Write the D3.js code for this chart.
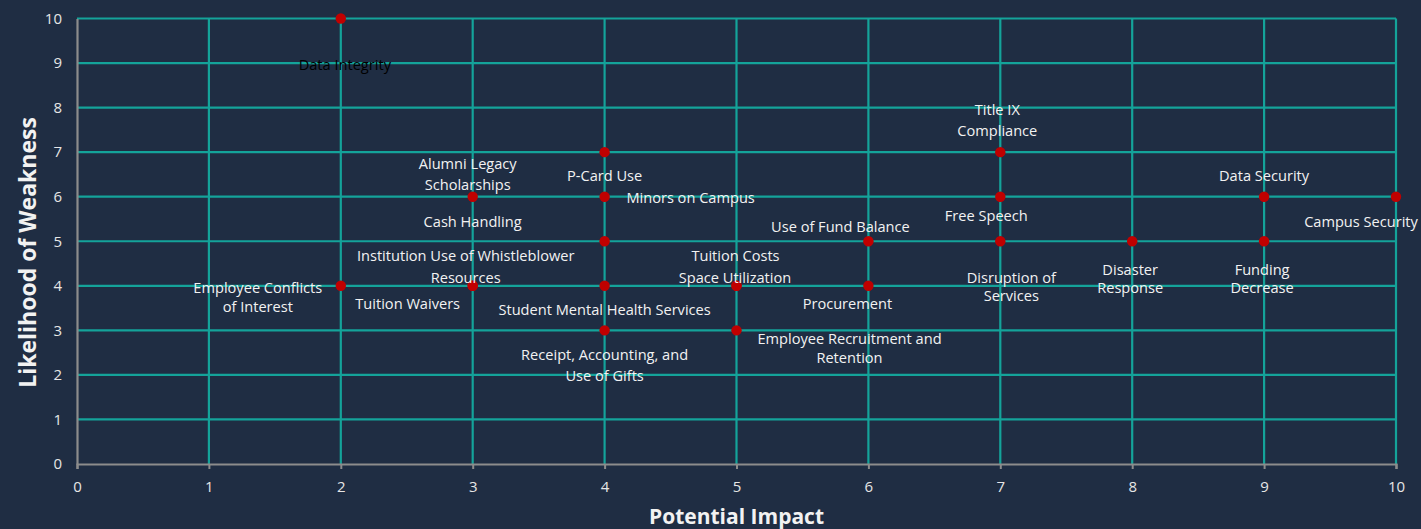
<!DOCTYPE html>
<html>
<head>
<meta charset="utf-8">
<script src="https://cdn.jsdelivr.net/npm/d3@7"></script>
<style>
  html, body { margin: 0; padding: 0; background: #1F2D43; }
  svg { display: block; }
  text { font-family: "Open Sans", Lato, sans-serif; }
</style>
</head>
<body>
<svg id="chart" width="1421" height="529"></svg>
<script>
// ---- data ----
const riskNames = [
  "Data Integrity",
  "Employee Conflicts of Interest",
  "Alumni Legacy Scholarships",
  "Cash Handling",
  "Institution Use of Whistleblower Resources",
  "Tuition Waivers",
  "P-Card Use",
  "Minors on Campus",
  "Student Mental Health Services",
  "Receipt, Accounting, and Use of Gifts",
  "Tuition Costs",
  "Space Utilization",
  "Employee Recruitment and Retention",
  "Use of Fund Balance",
  "Procurement",
  "Title IX Compliance",
  "Free Speech",
  "Disruption of Services",
  "Disaster Response",
  "Data Security",
  "Funding Decrease",
  "Campus Security"
];
const impactValues =     [2, 2, 3, 4, 3, 3, 4, 4, 4, 4, 5, 5, 5, 6, 6, 7, 7, 7, 8, 9, 9, 10];
const likelihoodValues = [10, 4, 6, 5, 4, 4, 7, 6, 4, 3, 4, 4, 3, 5, 4, 7, 6, 5, 5, 6, 5, 6];
const xTicks = [0, 1, 2, 3, 4, 5, 6, 7, 8, 9, 10];
const yTicks = [0, 1, 2, 3, 4, 5, 6, 7, 8, 9, 10];
const xTitle = "Potential Impact";
const yTitle = "Likelihood of Weakness";

// ---- label layout (line breaks + pixel offsets from the point) ----
const labelLines = [
  ["Data Integrity"],
  ["Employee Conflicts", "of Interest"],
  ["Alumni Legacy", "Scholarships"],
  ["Cash Handling"],
  ["Institution Use of Whistleblower", "Resources"],
  ["Tuition Waivers"],
  ["P-Card Use"],
  ["Minors on Campus"],
  ["Student Mental Health Services"],
  ["Receipt, Accounting, and", "Use of Gifts"],
  ["Tuition Costs"],
  ["Space Utilization"],
  ["Employee Recruitment and", "Retention"],
  ["Use of Fund Balance"],
  ["Procurement"],
  ["Title IX", "Compliance"],
  ["Free Speech"],
  ["Disruption of", "Services"],
  ["Disaster", "Response"],
  ["Data Security"],
  ["Funding", "Decrease"],
  ["Campus Security"]
];
// [dx, dy of first line centre, line gap]
const labelOffsets = [
  [4, 45, 0],
  [-83, 1.5, 19],
  [-5, -33.5, 20.5],
  [-132, -20, 0],
  [-7, -30.6, 21.5],
  [-65, 17.4, 0],
  [0, 23, 0],
  [86, 0.6, 0],
  [0, 23.4, 0],
  [0, 24, 21],
  [-1, -30.6, 0],
  [-1.5, -9, 0],
  [113, 8, 19],
  [-28, -15, 0],
  [-21, 17.4, 0],
  [-3, -42.8, 21],
  [-14, 18.6, 0],
  [11, 36, 18],
  [-2, 28, 18],
  [0, -21.4, 0],
  [-2, 28, 18],
  [-35, 24.6, 0]
];

// ---- chart ----
const svg = d3.select("#chart");
const margin = { left: 77, right: 25, top: 18.5, bottom: 65 };
const W = 1421, H = 529;

const x = d3.scaleLinear().domain([0, 10]).range([margin.left, W - margin.right]);
const y = d3.scaleLinear().domain([0, 10]).range([H - margin.bottom, margin.top]);

const gridColor = "#14A39A";
const axisColor = "#8C8C8C";
const textColor = "#E6E6E6";

// grid
svg.append("g")
  .selectAll("line.h")
  .data(yTicks.filter(d => d > 0))
  .join("line")
  .attr("x1", x(0)).attr("x2", x(10))
  .attr("y1", d => y(d)).attr("y2", d => y(d))
  .attr("stroke", gridColor).attr("stroke-width", 2.2);

svg.append("g")
  .selectAll("line.v")
  .data(xTicks.filter(d => d > 0))
  .join("line")
  .attr("x1", d => x(d)).attr("x2", d => x(d))
  .attr("y1", y(0)).attr("y2", y(10))
  .attr("stroke", gridColor).attr("stroke-width", 2.2);

// x axis
const xAxis = svg.append("g")
  .attr("transform", `translate(0,${y(0)})`)
  .call(d3.axisBottom(x).tickValues(xTicks).tickSize(5).tickPadding(12).tickFormat(d3.format("d")));
xAxis.select(".domain").attr("stroke", axisColor).attr("stroke-width", 2.2);
xAxis.selectAll(".tick line").attr("stroke", axisColor).attr("stroke-width", 2);
xAxis.selectAll(".tick text").attr("fill", textColor).attr("font-size", 15)
  .style("font-family", "'Open Sans', Lato, sans-serif");

// y axis
const yAxis = svg.append("g")
  .attr("transform", `translate(${x(0)},0)`)
  .call(d3.axisLeft(y).tickValues(yTicks).tickSize(0).tickPadding(15).tickFormat(d3.format("d")));
yAxis.select(".domain").attr("stroke", axisColor).attr("stroke-width", 2.2);
yAxis.selectAll(".tick text").attr("fill", textColor).attr("font-size", 15)
  .style("font-family", "'Open Sans', Lato, sans-serif");

// axis titles
svg.append("text")
  .attr("x", (x(0) + x(10)) / 2).attr("y", 516)
  .attr("text-anchor", "middle").attr("dominant-baseline", "central")
  .attr("fill", "#F2F2F2").attr("font-size", 21).attr("font-weight", "bold")
  .text(xTitle);

svg.append("text")
  .attr("transform", `translate(27,252.5) rotate(-90)`)
  .attr("text-anchor", "middle").attr("dominant-baseline", "central")
  .attr("fill", "#F2F2F2").attr("font-size", 23).attr("font-weight", "bold")
  .text(yTitle);

// points
const pts = riskNames.map((n, i) => ({ name: n, ix: impactValues[i], ly: likelihoodValues[i], i }));

svg.append("g")
  .selectAll("circle")
  .data(pts)
  .join("circle")
  .attr("cx", d => x(d.ix)).attr("cy", d => y(d.ly))
  .attr("r", 5.2)
  .attr("fill", "#C00000");

// labels
const lg = svg.append("g");
pts.forEach(d => {
  const [dx, dy, gap] = labelOffsets[d.i];
  const lines = labelLines[d.i];
  const t = lg.append("text")
    .attr("text-anchor", "middle")
    .attr("font-size", 14.6)
    .attr("fill", d.i === 0 ? "#000000" : "#F2F2F2");
  lines.forEach((ln, k) => {
    t.append("tspan")
      .attr("x", x(d.ix) + dx)
      .attr("y", y(d.ly) + dy + k * gap)
      .attr("dominant-baseline", "central")
      .text(ln);
  });
});
</script>
</body>
</html>
